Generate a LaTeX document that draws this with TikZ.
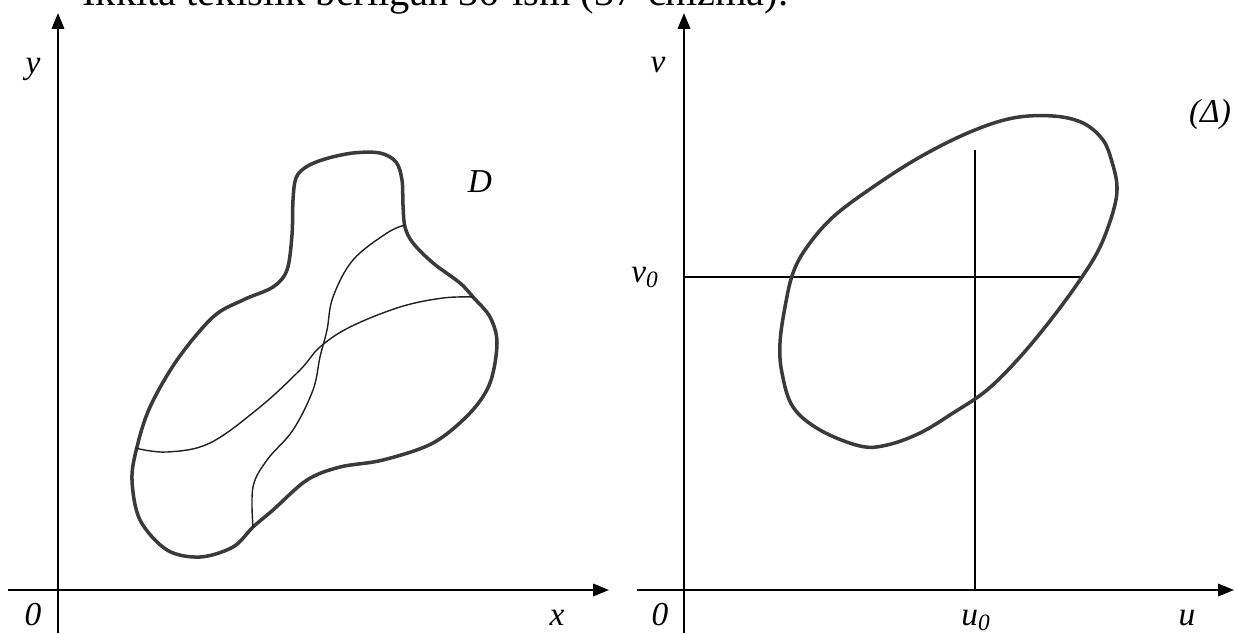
\documentclass[tikz,border=0pt]{standalone}
\usepackage{fontspec}
\setmainfont{Liberation Serif}
\usepackage{tikz}
\usetikzlibrary{arrows.meta,positioning}
\definecolor{inkx}{HTML}{3A3A3A}
\definecolor{penx}{HTML}{202020}
\tikzset{
  ax/.style={-{Triangle[length=9pt,width=7pt]},line width=1.3pt,black},
  rim/.style={line width=2pt,inkx,line join=round},
  fib/.style={line width=0.8pt,penx},
  grid0/.style={line width=0.8pt,black},
  lbl/.style={font=\fontsize{19}{22}\selectfont\itshape,inner sep=0pt,anchor=base}
}

\begin{document}
\begin{tikzpicture}[x=0.02cm,y=-0.02cm]
\useasboundingbox (0,0) rectangle (1235,633);
\clip (0,0) rectangle (1235,633);
% heading line, cut by the page edge
\node[font=\fontsize{23}{26}\selectfont,anchor=base west,inner sep=0pt] (head) at (82,5) {Ikkita tekislik berilgan 36-ism (37-chizma).};
% left plane
\coordinate (O1) at (58,590); \coordinate (Yb) at (58,633); \coordinate (Yt) at (58,13);
\coordinate (Xl) at (8,590); \coordinate (Xr) at (609,590);
\draw[ax] (Yb)--(Yt);
\draw[ax] (Xl)--(Xr);
\node[lbl] (ly) at (33,73) {y};
\node[lbl] (lx) at (557,625) {x};
\node[lbl] (lo1) at (33,625) {0};
\node[lbl] (lD) at (480,192) {D};
\draw[rim] plot[smooth cycle,tension=0.55] coordinates {
  (296,178) (306,167) (325,159) (353,153) (380,153) (396,162) (402,180)
  (403,205) (405,227) (413,243) (433,263) (460,283) (473,297) (490,317)
  (497,343) (490,383) (470,413) (433,443) (383,460) (340,467) (307,480)
  (273,510) (253,527) (233,547) (200,557) (167,550) (140,520) (132,480)
  (137,447) (150,407) (177,360) (213,317) (243,300) (273,287) (287,270)
  (292,235) (293,200)};
\draw[fib] plot[smooth,tension=0.6] coordinates {
  (135,448) (167,452) (210,443) (260,407) (300,370) (320,347) (350,327)
  (400,307) (443,298) (474,297)};
\draw[fib] plot[smooth,tension=0.6] coordinates {
  (405,225) (387,233) (353,260) (333,297) (327,330) (320,357) (313,390)
  (293,430) (267,460) (253,487) (253,527)};
% right plane
\coordinate (O2) at (684,590); \coordinate (Vb) at (684,633); \coordinate (Vt) at (684,13);
\coordinate (Ul) at (637,590); \coordinate (Ur) at (1234,590);
\coordinate (U0t) at (975,150); \coordinate (U0b) at (975,590);
\coordinate (V0r) at (1082,277);
\draw[ax] (Vb)--(Vt);
\draw[ax] (Ul)--(Ur);
\draw[grid0] (U0t)--(U0b);
\draw[grid0] (O2|-V0r)--(V0r);
\node[lbl] (lv) at (658,72) {v};
\node[lbl] (lv0) at (645,282) {v\textsubscript{0}};
\node[lbl] (lo2) at (660,625) {0};
\node[lbl] (lu0) at (976,625) {u\textsubscript{0}};
\node[lbl] (lu) at (1187,625) {u};
\node[lbl] (lDelta) at (1210,122) {(Δ)};
\draw[rim] plot[smooth cycle,tension=0.6] coordinates {
  (1013,118) (1053,116) (1083,123) (1103,140) (1112,162) (1117,187)
  (1113,212) (1100,247) (1082,277) (1053,317) (1020,357) (987,390)
  (953,413) (920,433) (887,445) (860,446) (820,430) (793,407) (782,373)
  (780,343) (785,307) (793,273) (807,247) (833,217) (873,187) (920,157)
  (970,132)};
\end{tikzpicture}
\end{document}
